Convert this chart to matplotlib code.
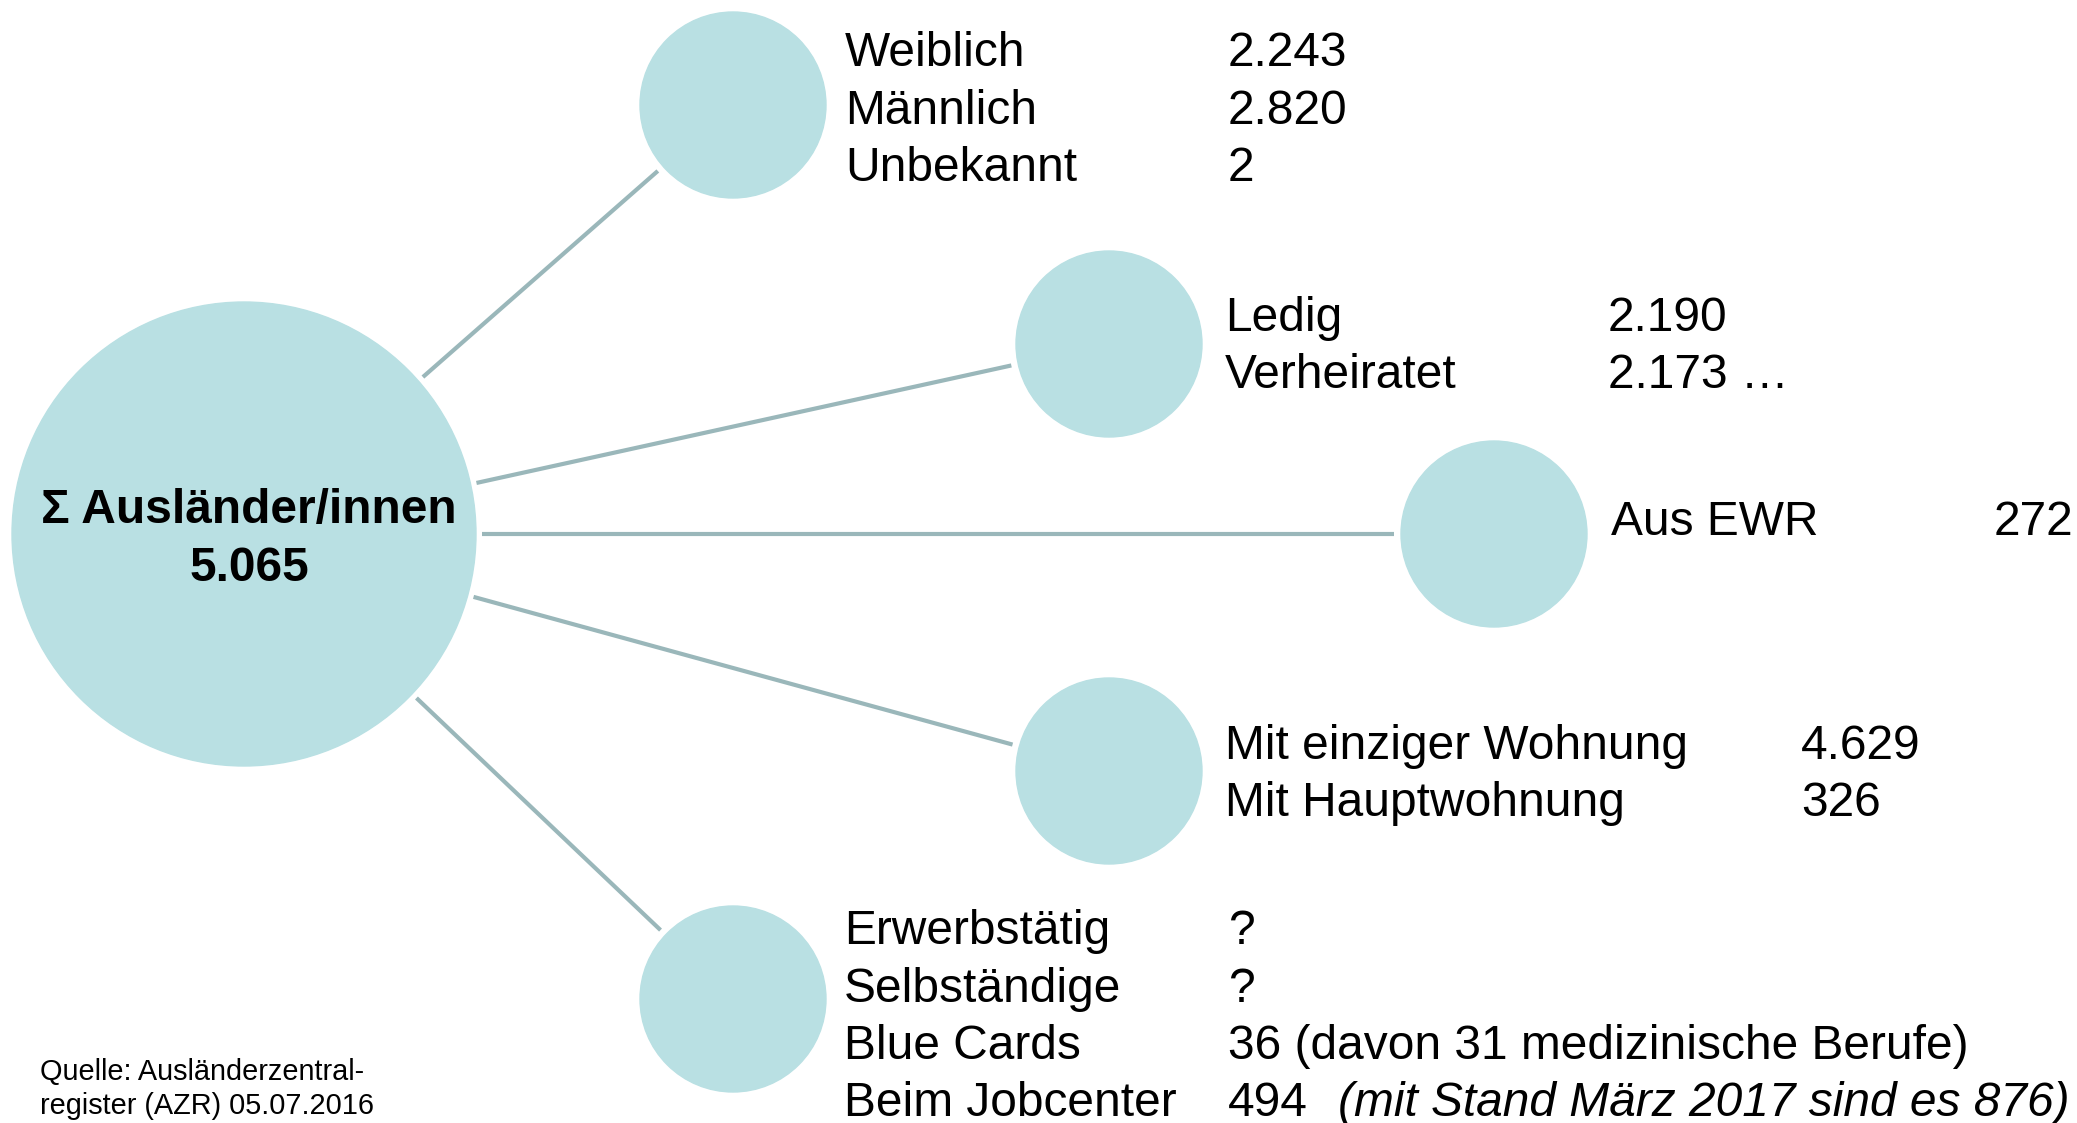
import matplotlib
matplotlib.use("Agg")
import numpy as np
import matplotlib.pyplot as plt
from matplotlib.patches import Circle

plt.rcParams['font.family'] = ['Liberation Sans', 'DejaVu Sans']

# --- data ---
total_label = "\u03a3 Ausl\u00e4nder/innen"
total_value = "5.065"

group_labels = [
    ["Weiblich", "M\u00e4nnlich", "Unbekannt"],
    ["Ledig", "Verheiratet"],
    ["Aus EWR"],
    ["Mit einziger Wohnung", "Mit Hauptwohnung"],
    ["Erwerbst\u00e4tig", "Selbst\u00e4ndige", "Blue Cards", "Beim Jobcenter"],
]
group_values = [
    ["2.243", "2.820", "2"],
    ["2.190", "2.173 \u2026"],
    ["272"],
    ["4.629", "326"],
    ["?", "?", "36 (davon 31 medizinische Berufe)", "494"],
]
jobcenter_note = "(mit Stand M\u00e4rz 2017 sind es 876)"
source = "Quelle: Ausl\u00e4nderzentral-\nregister (AZR) 05.07.2016"

# --- layout (pixel coords) ---
W, H = 2077, 1123
hub = (244, 534)
hub_r = 232
nodes = [(733, 105), (1109, 344), (1494, 534), (1109, 771), (733, 999)]
node_r = 93
label_x = [845, 1225, 1611, 1225, 844]
value_x = [1228, 1608, 1994, 1801, 1228]
first_row_y = [49, 314, 518, 742, 927]
row_h = 57.5
fill = '#b9e0e3'
line_c = '#9ab7ba'
fs = 34.5
off = 17  # baseline offset from visual centre

fig = plt.figure(figsize=(W / 100, H / 100), dpi=100)
ax = fig.add_axes([0, 0, 1, 1])
ax.set_xlim(0, W)
ax.set_ylim(H, 0)
ax.set_aspect('equal')
ax.axis('off')

ax.add_patch(Circle(hub, hub_r, color=fill, zorder=2))
for (cx, cy) in nodes:
    ax.add_patch(Circle((cx, cy), node_r, color=fill, zorder=2))
    d = np.array([cx - hub[0], cy - hub[1]], dtype=float)
    u = d / np.linalg.norm(d)
    p0 = np.array(hub) + u * (hub_r + 6)
    p1 = np.array([cx, cy]) - u * (node_r + 7)
    ax.plot([p0[0], p1[0]], [p0[1], p1[1]], color=line_c, lw=3, solid_capstyle='butt', zorder=1)

ax.text(hub[0] + 5, 506 + off, total_label, fontsize=fs, fontweight='bold', ha='center', va='baseline', zorder=3)
ax.text(hub[0] + 5, 564 + off, total_value, fontsize=fs, fontweight='bold', ha='center', va='baseline', zorder=3)

for i in range(len(nodes)):
    labs = group_labels[i]
    vals = group_values[i]
    for j in range(len(labs)):
        y = first_row_y[i] + j * row_h + off
        ax.text(label_x[i], y, labs[j], fontsize=fs, ha='left', va='baseline')
        ax.text(value_x[i], y, vals[j], fontsize=fs, ha='left', va='baseline')

ax.text(1338, first_row_y[4] + 3 * row_h + off, jobcenter_note, fontsize=fs, style='italic', ha='left', va='baseline')

ax.text(40, 1089, source, fontsize=20.8, ha='left', va='center', linespacing=1.3)

fig.savefig('out.png', dpi=100)
